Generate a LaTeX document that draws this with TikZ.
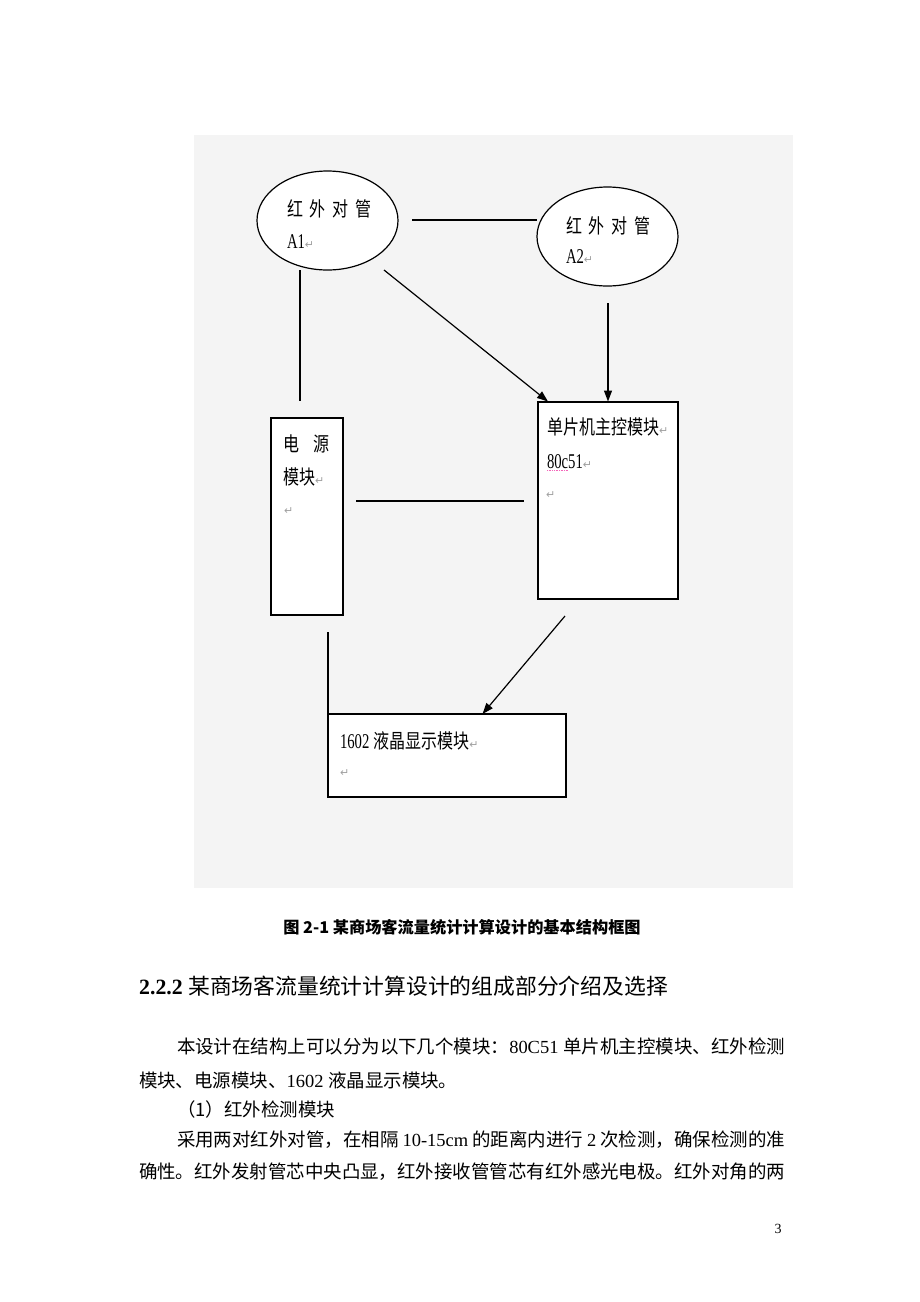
\documentclass[tikz,border=0pt]{standalone}
\usepackage{fontspec}
\usepackage{graphicx}
\setmainfont{Liberation Serif}
\newfontfamily\zhfont{Noto Sans CJK SC}
\newfontfamily\symfont{DejaVu Sans}
\usetikzlibrary{shapes.geometric,arrows.meta}
\XeTeXlinebreaklocale "zh"
\XeTeXlinebreakskip=0pt plus 3pt minus 1pt
\definecolor{bggray}{HTML}{F4F4F4}
\definecolor{markgray}{HTML}{A0A0A0}
\newcommand\zh[1]{{\zhfont #1}}
\newcommand\retmark{{\symfont\color{markgray}\fontsize{11}{11}\selectfont ↵}}
\newcommand\dz[1]{\scalebox{0.8}[1]{\zhfont\fontsize{20}{20}\selectfont #1}}
\newcommand\dl[1]{\scalebox{0.7}[1]{\fontsize{21}{21}\selectfont #1}}
\tikzset{
  lab/.style={inner sep=0pt, outer sep=0pt, anchor=base west},
  body/.style={inner sep=0pt, outer sep=0pt, anchor=base west, font=\fontsize{18.46}{18.46}\selectfont},
  oval/.style={ellipse, draw, fill=white, line width=1.2pt, minimum width=141pt, minimum height=99pt, inner sep=0pt},
  boxn/.style={rectangle, draw, fill=white, line width=1.2pt, inner sep=0pt},
  conn/.style={line width=1.2pt},
  arr/.style={line width=1.2pt, -{Triangle[length=11pt,width=8pt]}}
}
\begin{document}
\begin{tikzpicture}[x=1pt,y=-1pt]
\useasboundingbox[fill=white] (0,0) rectangle (920,1302);
% figure background
\fill[bggray] (194,135) rectangle (793,888);
% shapes
\node[oval] (a1) at (327.5,220.5) {};
\node[oval] (a2) at (607.5,236.5) {};
\node[boxn, minimum width=140pt, minimum height=197pt] (mcu) at (608,500.5) {};
\node[boxn, minimum width=72pt, minimum height=197pt] (pwr) at (307,516.5) {};
\node[boxn, minimum width=238pt, minimum height=83pt] (lcd) at (447,755.5) {};
% labels
\node[lab] (a1t) at (287,216) {\dz{红\hspace{8.4pt}外\hspace{8.4pt}对\hspace{8.4pt}管}};
\node[lab] (a1n) at (287,248.5) {\dl{A1}\retmark};
\node[lab] (a2t) at (566,233) {\dz{红\hspace{8.4pt}外\hspace{8.4pt}对\hspace{8.4pt}管}};
\node[lab] (a2n) at (566,263.5) {\dl{A2}\retmark};
\node[lab] (pw1) at (283,451) {\dz{电\hspace{17.5pt}源}};
\node[lab] (pw2) at (283,484.5) {\dz{模块}\retmark};
\node[lab] (pw3) at (284,514) {\retmark};
\node[lab] (mc1) at (547,434.5) {\dz{单片机主控模块}\retmark};
\node[lab] (mc2) at (547,468) {\dl{80c51}\retmark};
\node[lab] (mc3) at (546,498) {\retmark};
\draw[magenta!60, line width=0.7pt, densely dotted] (mc2.south west) ++(0,2.5) -- ++(22,0);
\node[lab] (lc1) at (340,748) {\dl{1602}\hspace{4pt}\dz{液晶显示模块}\retmark};
\node[lab] (lc2) at (340,776) {\retmark};
% connector end points
\coordinate (c1) at (412,220);
\coordinate (c2) at (537,220);
\coordinate (c3) at (300,270);
\coordinate (c4) at (300,401);
\coordinate (c5) at (384,270);
\coordinate (c6) at (548,401.5);
\coordinate (c7) at (608,303);
\coordinate (c8) at (608,401.5);
\coordinate (c9) at (356,501);
\coordinate (c10) at (524,501);
\coordinate (c11) at (328,632);
\coordinate (c12) at (328,714);
\coordinate (c13) at (565,616);
\coordinate (c14) at (482.5,714);
% connectors
\draw[conn] (c1) -- (c2);
\draw[conn] (c3) -- (c4);
\draw[arr] (c5) -- (c6);
\draw[arr] (c7) -- (c8);
\draw[conn] (c9) -- (c10);
\draw[conn] (c11) -- (c12);
\draw[arr] (c13) -- (c14);
% caption and text
\node[inner sep=0pt, anchor=base] (cap) at (462,933) {\zhfont\bfseries\fontsize{16.2}{16.2}\selectfont 图 2-1 某商场客流量统计计算设计的基本结构框图};
\node[inner sep=0pt, anchor=base west] (head) at (139,994) {\fontsize{21.8}{21.8}\selectfont\textbf{2.2.2} \zh{某商场客流量统计计算设计的组成部分介绍及选择}};
\node[body] (p1) at (177,1053) {\hbox to 608pt{\zh{本设计在结构上可以分为以下几个模块：}80C51 \zh{单片机主控模块、红外检测}}};
\node[body] (p2) at (139,1087) {\zh{模块、电源模块、}1602 \zh{液晶显示模块。}};
\node[body] (p3) at (177,1116) {\zh{（1）红外检测模块}};
\node[body] (p4) at (177,1146) {\hbox to 608pt{\zh{采用两对红外对管，在相隔} 10-15cm \zh{的距离内进行} 2 \zh{次检测，确保检测的准}}};
\node[body] (p5) at (139,1178) {\hbox to 646pt{\zh{确性。红外发射管芯中央凸显，红外接收管管芯有红外感光电极。红外对角的两}}};
\node[inner sep=0pt, anchor=base] (pg) at (778,1233) {\fontsize{14}{14}\selectfont 3};
\end{tikzpicture}
\end{document}
